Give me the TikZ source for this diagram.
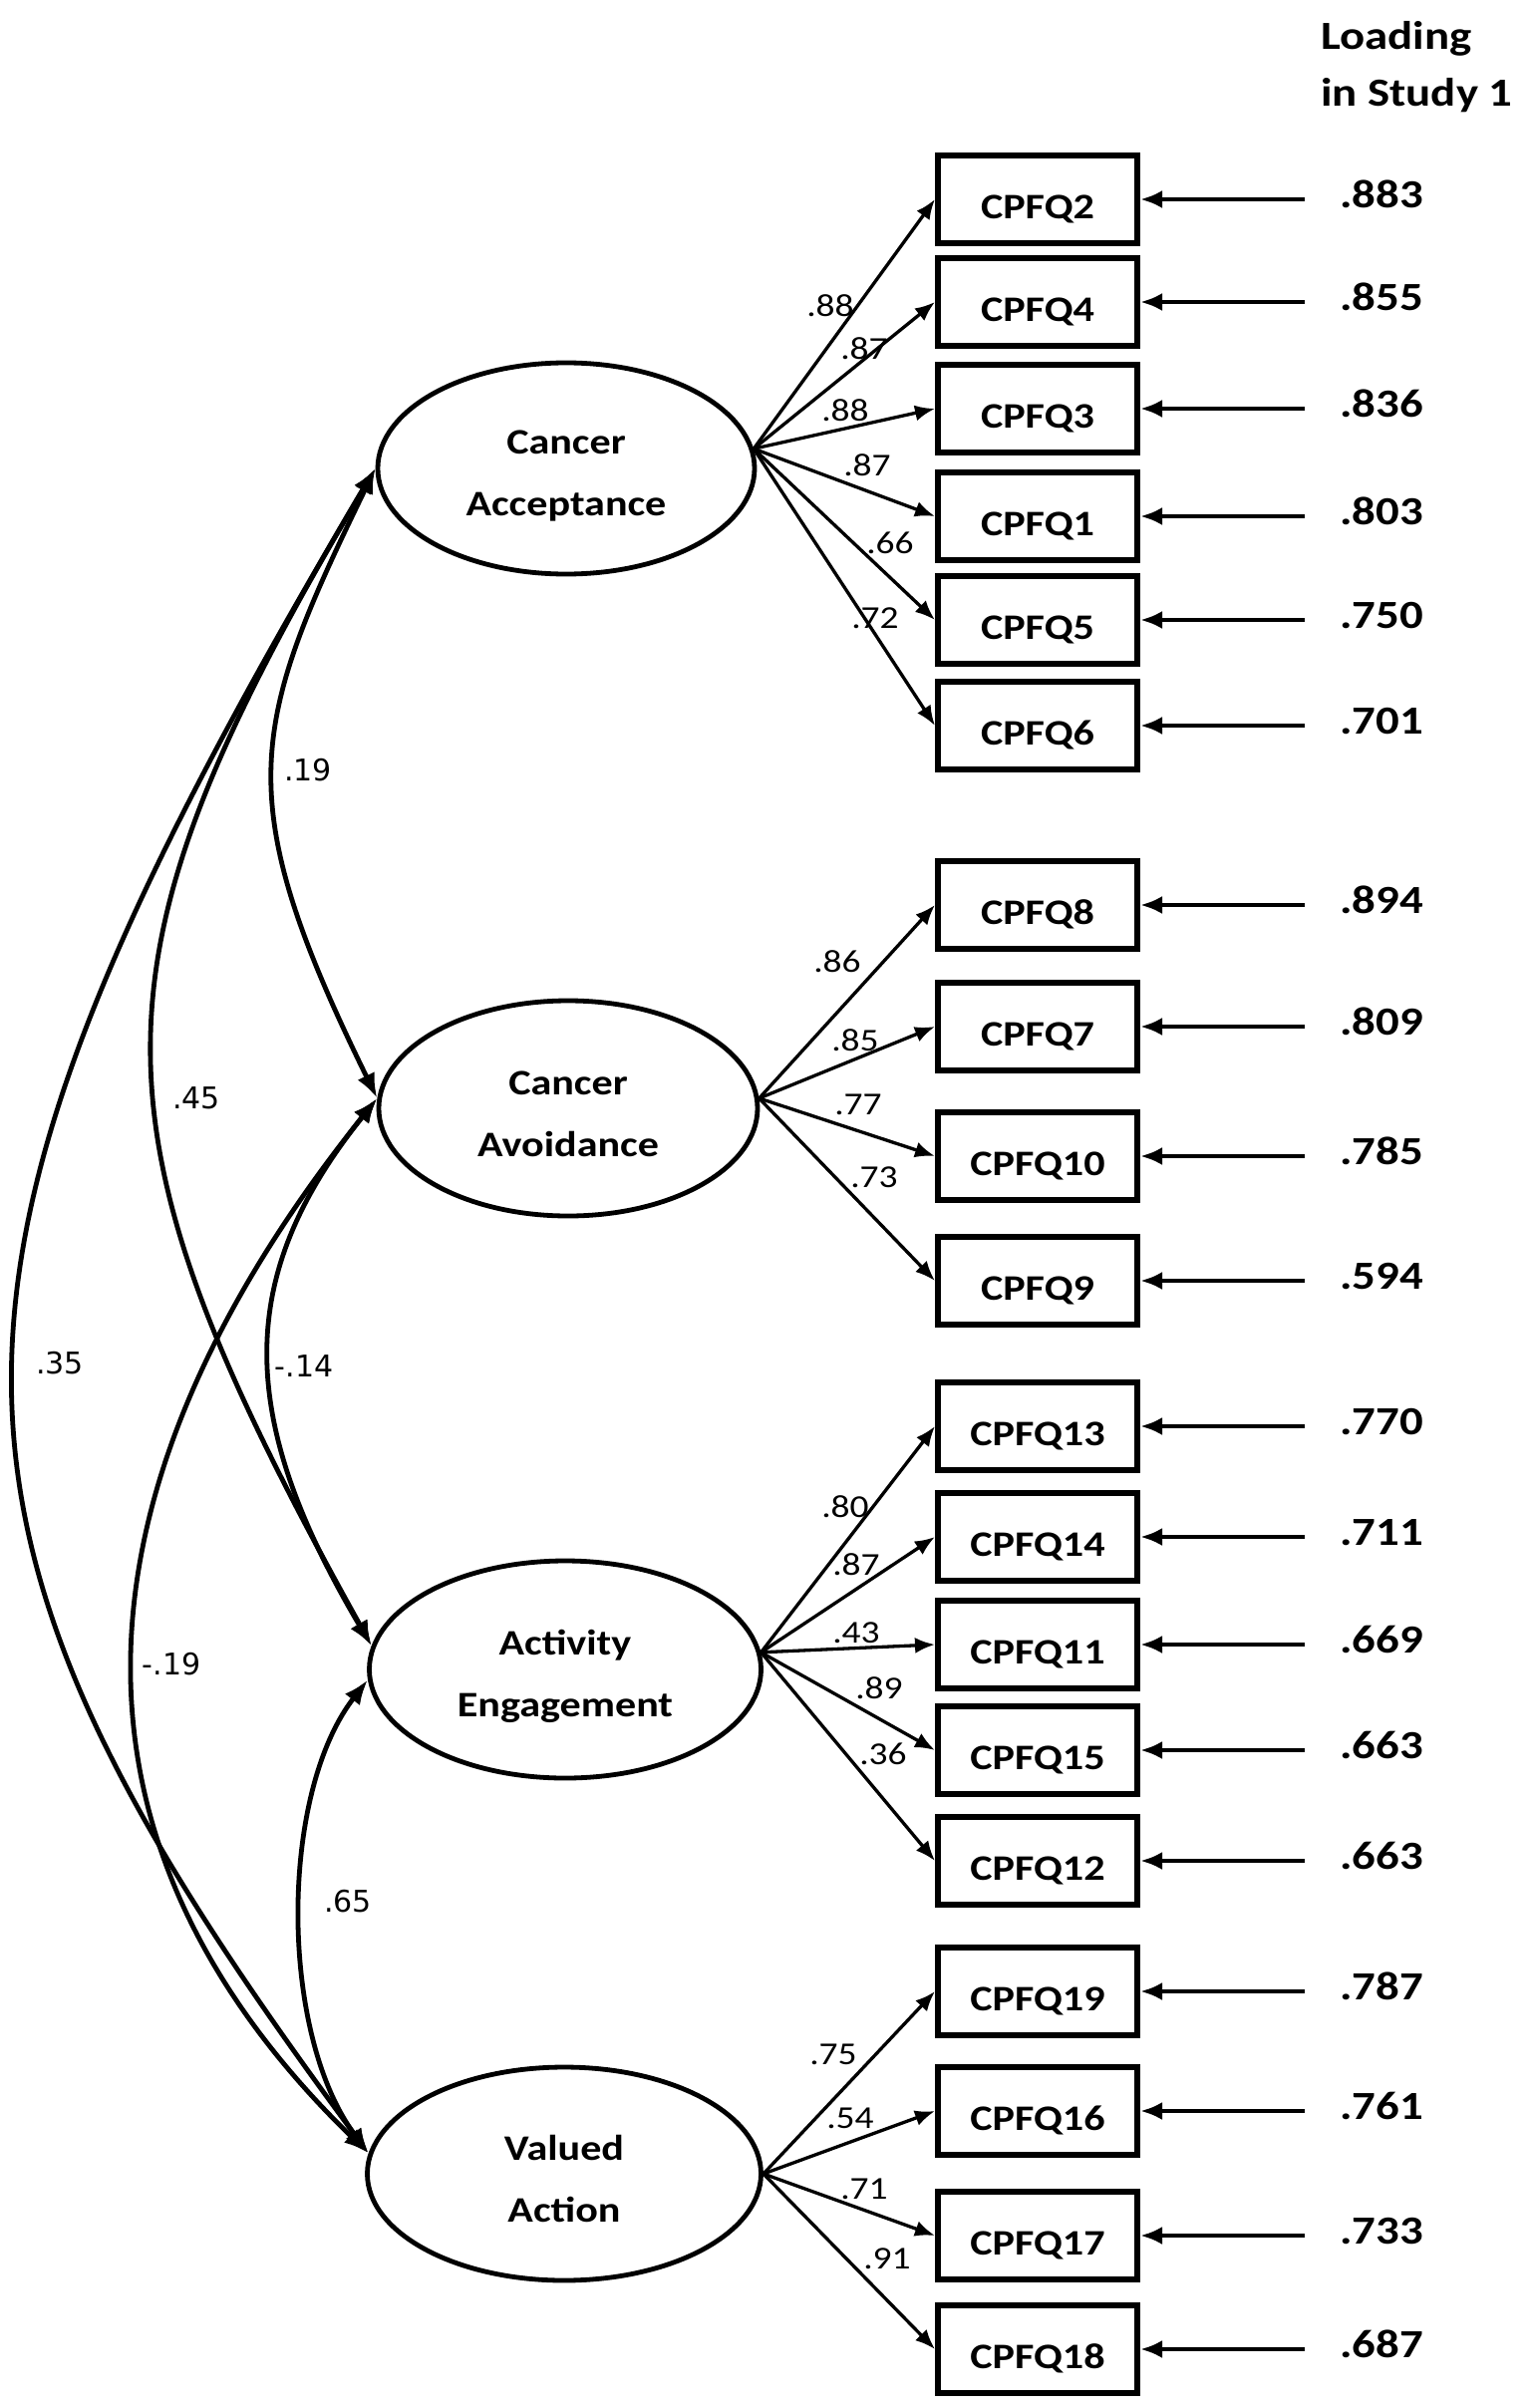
\documentclass[tikz,border=0pt]{standalone}
\usepackage{fontspec}
\usetikzlibrary{arrows.meta,shapes.geometric}
\newfontfamily\carl[FakeStretch=1.17]{Carlito}
\newfontfamily\dejavu{DejaVu Sans}
\newcommand{\topstrut}{\rule{0pt}{39pt}}
\newcommand{\botstrut}{\rule[-5pt]{0pt}{5pt}}
\begin{document}
\begin{tikzpicture}[x=1pt,y=-1pt,
  lat/.style={draw, ellipse, line width=4.8pt, inner sep=0pt, align=center,
    font=\carl\bfseries\fontsize{36}{62}\selectfont},
  box/.style={draw, rectangle, line width=6pt, minimum width=200pt, minimum height=88pt,
    inner sep=0pt, text height=39pt, text depth=0pt,
    font=\carl\bfseries\fontsize{36}{40}\selectfont},
  val/.style={inner sep=0pt, anchor=west, text height=25pt, text depth=0pt,
    font=\carl\bfseries\fontsize{40}{44}\selectfont},
  hdr/.style={inner sep=0pt, anchor=base west,
    font=\carl\bfseries\fontsize{40}{44}\selectfont},
  pl/.style={inner sep=0pt, text height=20pt, text depth=0pt,
    font=\carl\fontsize{32}{36}\selectfont},
  cl/.style={inner sep=0pt, text height=22pt, text depth=0pt,
    font=\dejavu\fontsize{30}{34}\selectfont},
  fan/.style={line width=3.3pt, -{Latex[length=20pt,width=16pt]}},
  rarr/.style={line width=4.5pt, -{Latex[length=22pt,width=18pt]}, shorten <=35pt},
  cov/.style={line width=4.8pt, {Latex[length=25pt,width=19pt]}-{Latex[length=25pt,width=19pt]}},
]
\path[use as bounding box, fill=white] (0,0) rectangle (1535,2416);

% header
\node[hdr] (hd1) at (1325,50) {Loading};
\node[hdr] (hd2) at (1325,107) {in Study 1};

% latent variables
\node[lat, minimum width=378pt, minimum height=212pt] (CA) at (568,470) {\topstrut Cancer\\Acceptance\botstrut};
\node[lat, minimum width=380pt, minimum height=216pt] (CAv) at (570,1112) {\topstrut Cancer\\Avoidance\botstrut};
\node[lat, minimum width=393pt, minimum height=218pt] (AE) at (567,1675) {\topstrut Activity\\Engagement\botstrut};
\node[lat, minimum width=395pt, minimum height=214pt] (VA) at (566,2181) {\topstrut Valued\\Action\botstrut};

% indicators
\foreach \n/\y/\v in {2/200/.883, 4/303/.855, 3/410/.836, 1/518/.803, 5/622/.750, 6/728/.701,
                      8/908/.894, 7/1030/.809, 10/1160/.785, 9/1285/.594,
                      13/1431/.770, 14/1542/.711, 11/1650/.669, 15/1756/.663, 12/1867/.663,
                      19/1998/.787, 16/2118/.761, 17/2243/.733, 18/2357/.687}{
  \node[box] (q\n) at (1041,\y) {CPFQ\n};
  \node[val] (v\n) at (1344,\y-4) {\v};
  \draw[rarr] (v\n.west |- q\n.east) -- (q\n.east);
}

% loadings
\foreach \b in {2,4,3,1,5,6}{\draw[fan] (CA.6) -- (q\b.west);}
\foreach \b in {8,7,10,9}{\draw[fan] (CAv.3) -- (q\b.west);}
\foreach \b in {13,14,11,15,12}{\draw[fan] (AE.5) -- (q\b.west);}
\foreach \b in {19,16,17,18}{\draw[fan] (VA.0) -- (q\b.west);}

% loading labels
\node[pl] (l2) at (833,307) {.88};
\node[pl] (l4) at (867,350) {.87};
\node[pl] (l3) at (848,412) {.88};
\node[pl] (l1) at (870,467) {.87};
\node[pl] (l5) at (893,545) {.66};
\node[pl] (l6) at (878,620) {.72};
\node[pl] (l8) at (840,965) {.86};
\node[pl] (l7) at (858,1044) {.85};
\node[pl] (l10) at (861,1108) {.77};
\node[pl] (l9) at (877,1181) {.73};
\node[pl] (l13) at (848,1512) {.80};
\node[pl] (l14) at (859,1570) {.87};
\node[pl] (l11) at (859,1638) {.43};
\node[pl] (l15) at (882,1694) {.89};
\node[pl] (l12) at (886,1760) {.36};
\node[pl] (l19) at (836,2061) {.75};
\node[pl] (l16) at (853,2125) {.54};
\node[pl] (l17) at (867,2196) {.71};
\node[pl] (l18) at (890,2266) {.91};

% covariances
\draw[cov] (CA.west) .. controls (250,730) and (230,800) .. (CAv.177);
\draw[cov] (CA.west) .. controls (80,970) and (80,1125) .. (AE.173);
\draw[cov] (CA.west) .. controls (-105,1284) and (-105,1520) .. (VA.174);
\draw[cov] (CAv.177) .. controls (236,1280) and (236,1420) .. (AE.173);
\draw[cov] (CAv.177) .. controls (60,1500) and (50,1850) .. (VA.174);
\draw[cov] (AE.183) .. controls (280,1800) and (280,2040) .. (VA.174);

\node[cl] (c19) at (309,772) {.19};
\node[cl] (c45) at (197,1101) {.45};
\node[cl] (c35) at (60,1367) {.35};
\node[cl] (c14) at (305,1370) {-.14};
\node[cl] (c19b) at (172,1669) {-.19};
\node[cl] (c65) at (349,1907) {.65};
\end{tikzpicture}
\end{document}
